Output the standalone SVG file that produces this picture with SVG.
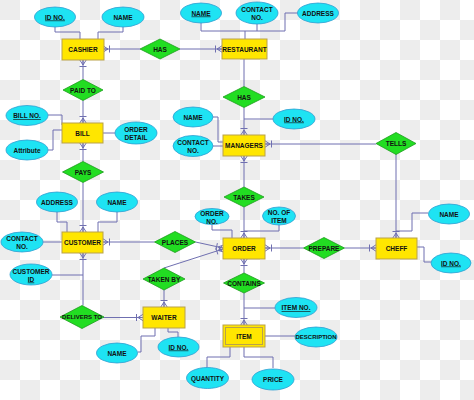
<svg xmlns="http://www.w3.org/2000/svg" width="474" height="400" viewBox="0 0 474 400">
<defs>
<pattern id="chk" x="0" y="0" width="40" height="40" patternUnits="userSpaceOnUse">
<rect width="40" height="40" fill="#ffffff"/>
<rect width="20" height="20" fill="#ededed"/>
<rect x="20" y="20" width="20" height="20" fill="#ededed"/>
</pattern>
<marker id="m" viewBox="0 0 8 8" refX="8" refY="4" markerWidth="8" markerHeight="8" markerUnits="userSpaceOnUse" orient="auto">
<path d="M1.5,0.5 V7.5 M3,4 L8,0.8 M3,4 L8,7.2 M3,4 H8" fill="none" stroke="#6f6fb0" stroke-width="1"/>
</marker>
</defs>
<style>
.e{fill:#ffe600;stroke:#b9a24a;stroke-width:1}
.r{fill:#22dd22;stroke:#1c9c1c;stroke-width:0.8}
.a{fill:#1ee3f3;stroke:#2f9ed2;stroke-width:0.8}
.t{font-family:"Liberation Sans",Arial,sans-serif;font-weight:bold;font-size:6.5px;fill:#111;text-anchor:middle;dominant-baseline:central}
.u{text-decoration:underline}
.c path{fill:none;stroke:#6f6fb0;stroke-width:1}
.k{marker-end:url(#m)}
</style>
<rect width="474" height="400" fill="url(#chk)"/>
<g id="connectors" class="c">
<path class="k" d="M140,49 H103"/>
<path class="k" d="M180,49 H222"/>
<path class="k" d="M83,79.5 V60"/>
<path class="k" d="M83,100.5 V123"/>
<path class="k" d="M83,161.5 V143"/>
<path class="k" d="M83,182.5 V232"/>
<path d="M244,86.5 V59"/>
<path class="k" d="M244,107.5 V135"/>
<path class="k" d="M244,187 V156"/>
<path class="k" d="M244,207 V238"/>
<path class="k" d="M376,144 H265"/>
<path class="k" d="M396,154 V238"/>
<path class="k" d="M154.5,242 H103"/>
<path class="k" d="M195.5,242 L223,248"/>
<path class="k" d="M164,268 L223,249"/>
<path class="k" d="M164,290 V307"/>
<path class="k" d="M303.5,248 H265"/>
<path class="k" d="M344.5,248 H376"/>
<path class="k" d="M244,273 V259"/>
<path class="k" d="M244,293 V325"/>
<path class="k" d="M83,305.5 V253"/>
<path class="k" d="M103,317.5 H143"/>
<path d="M55,27 V32 H80 V39 M123,27 V32 H98 V39"/>
<path d="M201,23 V31 H285 M257,24 V31 M298,13 H285 V31 M245,31 V39"/>
<path d="M48,115 H62 V125 M48,150 H53 V130 H62 M103,133 H115"/>
<path d="M213,117 H218 V142 H223 M213,146 H223 M273,119 H244"/>
<path d="M57,212 V222 H67 V232 M117,212 V222 H98 V232 M43,242 H62 M52,275 H83"/>
<path d="M212,224 V230 H232 V238 M279,225 V231 H244"/>
<path d="M428,213 H412 V231 H396 M417,247 H424 V262 H431"/>
<path d="M138,352 H141 V336 H155 V328 M178,337 V332 H168 V328"/>
<path d="M275,308 H244 M265,336 H295 M207,368 V357 H230 V347 M273,368 V357 H244 V347"/>
</g>
<g id="cashier"><rect class="e" x="62" y="39" width="42" height="21"/><text class="t" x="83" y="49.5">CASHIER</text></g>
<g id="restaurant"><rect class="e" x="222" y="39" width="45" height="20"/><text class="t" x="244.5" y="49">RESTAURANT</text></g>
<g id="bill"><rect class="e" x="62" y="123" width="41" height="20"/><text class="t" x="82.5" y="133">BILL</text></g>
<g id="managers"><rect class="e" x="223" y="135" width="42" height="21"/><text class="t" x="244" y="145.5">MANAGERS</text></g>
<g id="customer"><rect class="e" x="62" y="232" width="41" height="21"/><text class="t" x="82.5" y="242.5">CUSTOMER</text></g>
<g id="order"><rect class="e" x="223" y="238" width="42" height="21"/><text class="t" x="244" y="248.5">ORDER</text></g>
<g id="cheff"><rect class="e" x="376" y="238" width="41" height="21"/><text class="t" x="396.5" y="248.5">CHEFF</text></g>
<g id="waiter"><rect class="e" x="143" y="307" width="42" height="21"/><text class="t" x="164" y="317.5">WAITER</text></g>
<g id="item"><rect class="e" x="223" y="325" width="42" height="22"/><rect class="e" x="225.5" y="327.5" width="37" height="17"/><text class="t" x="244" y="336">ITEM</text></g>

<g id="has1"><polygon class="r" points="140,49 160,39 180,49 160,59"/><text class="t" x="160" y="49">HAS</text></g>
<g id="paidto"><polygon class="r" points="63,90 83,79.5 103,90 83,100.5"/><text class="t" x="83" y="90">PAID TO</text></g>
<g id="pays"><polygon class="r" points="62.5,172 83,161.5 103.5,172 83,182.5"/><text class="t" x="83" y="172">PAYS</text></g>
<g id="has2"><polygon class="r" points="223,97 244,86.5 265,97 244,107.5"/><text class="t" x="244" y="97">HAS</text></g>
<g id="takes"><polygon class="r" points="224,197 244,187 264,197 244,207"/><text class="t" x="244" y="197">TAKES</text></g>
<g id="tells"><polygon class="r" points="376,143.5 396,132.5 416,143.5 396,154.5"/><text class="t" x="396" y="143.5">TELLS</text></g>
<g id="places"><polygon class="r" points="154.5,242 175,231.5 195.5,242 175,252.5"/><text class="t" x="175" y="242">PLACES</text></g>
<g id="prepare"><polygon class="r" points="303.5,248 324,237.5 344.5,248 324,258.5"/><text class="t" x="324" y="248">PREPARE</text></g>
<g id="takenby"><polygon class="r" points="143,279 164,268 185,279 164,290"/><text class="t" x="164" y="279">TAKEN BY</text></g>
<g id="contains"><polygon class="r" points="223.5,283 244,273 264.5,283 244,293"/><text class="t" x="244" y="283">CONTAINS</text></g>
<g id="deliversto"><polygon class="r" points="60,317 82,305.5 104,317 82,328.5"/><text class="t" x="82" y="317" style="font-size:6px">DELIVERS TO</text></g>

<g id="cashier-idno"><ellipse class="a" cx="55" cy="17" rx="20.5" ry="10"/><text class="t u" x="55" y="17">ID NO.</text></g>
<g id="cashier-name"><ellipse class="a" cx="123" cy="17" rx="21" ry="10"/><text class="t" x="123" y="17">NAME</text></g>
<g id="restaurant-name"><ellipse class="a" cx="201" cy="13" rx="20.5" ry="10"/><text class="t u" x="201" y="13">NAME</text></g>
<g id="restaurant-contact"><ellipse class="a" cx="257" cy="13" rx="21" ry="11"/><text class="t" x="257" y="9.5">CONTACT</text><text class="t" x="257" y="17.5">NO.</text></g>
<g id="restaurant-address"><ellipse class="a" cx="318" cy="13" rx="20.5" ry="10"/><text class="t" x="318" y="13">ADDRESS</text></g>
<g id="bill-billno"><ellipse class="a" cx="27" cy="115.5" rx="21" ry="10"/><text class="t u" x="27" y="115.5">BILL NO.</text></g>
<g id="bill-orderdetail"><ellipse class="a" cx="136" cy="133" rx="21" ry="11"/><text class="t" x="136" y="129.5">ORDER</text><text class="t" x="136" y="137.5">DETAIL</text></g>
<g id="bill-attribute"><ellipse class="a" cx="27" cy="150" rx="21" ry="10"/><text class="t" x="27" y="150">Attribute</text></g>
<g id="managers-name"><ellipse class="a" cx="193" cy="117" rx="20" ry="10"/><text class="t" x="193" y="117">NAME</text></g>
<g id="managers-idno"><ellipse class="a" cx="294" cy="119" rx="21" ry="10"/><text class="t u" x="294" y="119">ID NO.</text></g>
<g id="managers-contact"><ellipse class="a" cx="193" cy="146" rx="20" ry="10.5"/><text class="t" x="193" y="142.5">CONTACT</text><text class="t" x="193" y="150.5">NO.</text></g>
<g id="customer-address"><ellipse class="a" cx="57" cy="202" rx="20.5" ry="10"/><text class="t" x="57" y="202">ADDRESS</text></g>
<g id="customer-name"><ellipse class="a" cx="117" cy="202" rx="20.5" ry="10"/><text class="t" x="117" y="202">NAME</text></g>
<g id="customer-contact"><ellipse class="a" cx="22" cy="242" rx="21" ry="10"/><text class="t" x="22" y="238.5">CONTACT</text><text class="t" x="22" y="246.5">NO.</text></g>
<g id="customer-id"><ellipse class="a" cx="31" cy="274.5" rx="21" ry="10.5"/><text class="t" x="31" y="271">CUSTOMER</text><text class="t u" x="31" y="279">ID</text></g>
<g id="order-orderno"><ellipse class="a" cx="212" cy="216.5" rx="17" ry="8"/><text class="t" x="212" y="213">ORDER</text><text class="t" x="212" y="221">NO.</text></g>
<g id="order-noofitem"><ellipse class="a" cx="279" cy="216" rx="16.5" ry="9"/><text class="t" x="279" y="212.5">NO. OF</text><text class="t" x="279" y="220.5">ITEM</text></g>
<g id="cheff-name"><ellipse class="a" cx="449" cy="214" rx="20.5" ry="10"/><text class="t" x="449" y="214">NAME</text></g>
<g id="cheff-idno"><ellipse class="a" cx="451" cy="263" rx="20" ry="10"/><text class="t u" x="451" y="263">ID NO.</text></g>
<g id="waiter-name"><ellipse class="a" cx="117" cy="353" rx="20.5" ry="10"/><text class="t" x="117" y="353">NAME</text></g>
<g id="waiter-idno"><ellipse class="a" cx="178.5" cy="347" rx="20.5" ry="10"/><text class="t u" x="178.5" y="347">ID NO.</text></g>
<g id="item-itemno"><ellipse class="a" cx="296" cy="307.5" rx="21" ry="10"/><text class="t u" x="296" y="307.5">ITEM NO.</text></g>
<g id="item-description"><ellipse class="a" cx="316" cy="337" rx="21" ry="10"/><text class="t" x="316" y="337" style="font-size:6px">DESCRIPTION</text></g>
<g id="item-quantity"><ellipse class="a" cx="207.5" cy="378" rx="21" ry="10.5"/><text class="t" x="207.5" y="378">QUANTITY</text></g>
<g id="item-price"><ellipse class="a" cx="273" cy="379.5" rx="21" ry="10.5"/><text class="t" x="273" y="379.5">PRICE</text></g>
</svg>
